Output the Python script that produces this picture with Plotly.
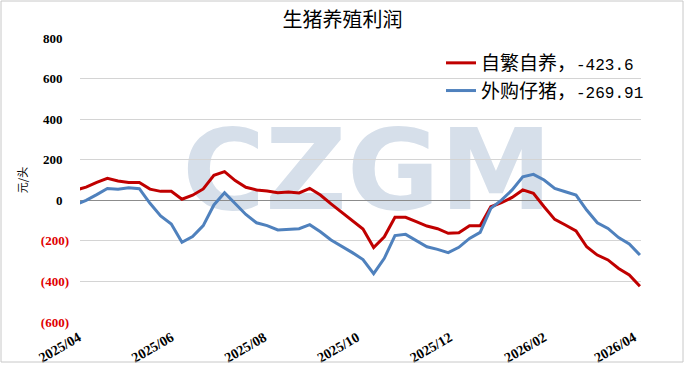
import pandas as pd
import plotly.graph_objects as go

# ---- data ----
dates = pd.date_range("2025-03-28", periods=54, freq="7D")
self_bred = [50, 65, 88, 108, 95, 88, 88, 55, 44, 44, 5, 25, 56, 123, 141, 97, 64, 51, 46, 37,
             41, 36, 59, 26, -18, -60, -100, -142, -233, -180, -84, -84, -105, -127, -140, -163,
             -160, -125, -125, -32, -12, 14, 51, 34, -32, -94, -122, -151, -229, -270, -294, -336,
             -368, -423.6]
bought_piglet = [-22, 0, 28, 58, 54, 62, 57, -15, -77, -117, -207, -179, -125, -23, 37, -18, -70,
                 -111, -125, -146, -143, -140, -120, -155, -196, -225, -258, -292, -362, -286, -174,
                 -168, -199, -229, -242, -258, -232, -188, -158, -40, 1, 51, 116, 128, 100, 59, 42,
                 26, -48, -111, -139, -184, -215, -269.91]
series_labels = ["自繁自养", "外购仔猪"]
latest_values = ["-423.6", "-269.91"]
x_tick_dates = ["2025-04-01", "2025-06-01", "2025-08-01", "2025-10-01", "2025-12-01",
                "2026-02-01", "2026-04-01"]
x_tick_labels = ["2025/04", "2025/06", "2025/08", "2025/10", "2025/12", "2026/02", "2026/04"]
y_tick_vals = [-600, -400, -200, 0, 200, 400, 600, 800]
y_tick_labels = ["(600)", "(400)", "(200)", "0", "200", "400", "600", "800"]

W, H = 685, 365
L, R, T, B = 80, 44, 38, 43
pw, ph = W - L - R, H - T - B

ytext = []
for v, lab in zip(y_tick_vals, y_tick_labels):
    if v < 0:
        ytext.append(f"<span style='color:#e00000'>{lab}</span>")
    else:
        ytext.append(lab + "\u2002")

names = [f"{lab}，<span style='font-size:16px'>{val}</span>"
         for lab, val in zip(series_labels, latest_values)]

fig = go.Figure()
fig.add_trace(go.Scatter(x=dates, y=self_bred, mode="lines", name=names[0],
                         legendgroup="a", line=dict(color="#c00000", width=3)))
fig.add_trace(go.Scatter(x=dates, y=bought_piglet, mode="lines", name=names[1],
                         legendgroup="b", line=dict(color="#4f81bd", width=3)))

# watermark
fig.add_shape(type="rect", xref="paper", yref="paper", x0=0.212, x1=0.812, y0=0.393, y1=0.733,
              line=dict(width=0), fillcolor="rgba(0,0,0,0)", layer="below",
              label=dict(text="CZGM", font=dict(family="DejaVu Sans", size=113, color="#d6dfea", weight="bold")))

# outer border
fig.add_shape(type="rect", xref="paper", yref="paper",
              x0=(1 - L) / pw, x1=(W - 2 - L) / pw, y0=-(H - 3 - T - ph) / ph, y1=1 + (T - 1) / ph,
              line=dict(color="#c8c8c8", width=1), fillcolor="rgba(0,0,0,0)", layer="above")

fig.update_layout(
    width=W, height=H,
    margin=dict(l=L, r=R, t=T, b=B),
    paper_bgcolor="white", plot_bgcolor="white",
    title=dict(text="生猪养殖利润", x=0.5, xanchor="center", y=1 - 20 / H, yanchor="middle",
               font=dict(family="Noto Sans CJK SC", size=20, color="black")),
    showlegend=True,
    legend=dict(x=(441 - L) / pw, xanchor="left", y=(H - B - 44) / ph, yanchor="top",
                bgcolor="rgba(0,0,0,0)", itemwidth=30, tracegroupgap=0,
                font=dict(family="Liberation Mono, Noto Sans CJK SC", size=19, color="black")),
    xaxis=dict(type="date", range=["2025-03-31", "2026-04-03 17:00"], automargin=False,
               tickvals=x_tick_dates, ticktext=x_tick_labels, tickangle=-30,
               showgrid=False, showline=False, zeroline=False, ticks="",
               ticklabelshift=-3, ticklabelstandoff=4,
               tickfont=dict(family="Liberation Serif", size=14, color="black", weight="bold")),
    yaxis=dict(range=[-600, 800], tickvals=y_tick_vals, ticktext=ytext, automargin=False,
               showgrid=True, gridcolor="#d4d4d4", gridwidth=1,
               zeroline=True, zerolinecolor="#8c8c8c", zerolinewidth=1,
               showline=False, ticks="", ticklabelstandoff=10,
               tickfont=dict(family="Liberation Serif", size=13, color="black", weight="bold"),
               title=dict(text="元/头", standoff=10,
                          font=dict(family="Noto Sans CJK SC", size=11, color="black"))),
)

fig.write_html("out.html", config={"displayModeBar": False},
               post_script="document.body.style.margin='0';")
